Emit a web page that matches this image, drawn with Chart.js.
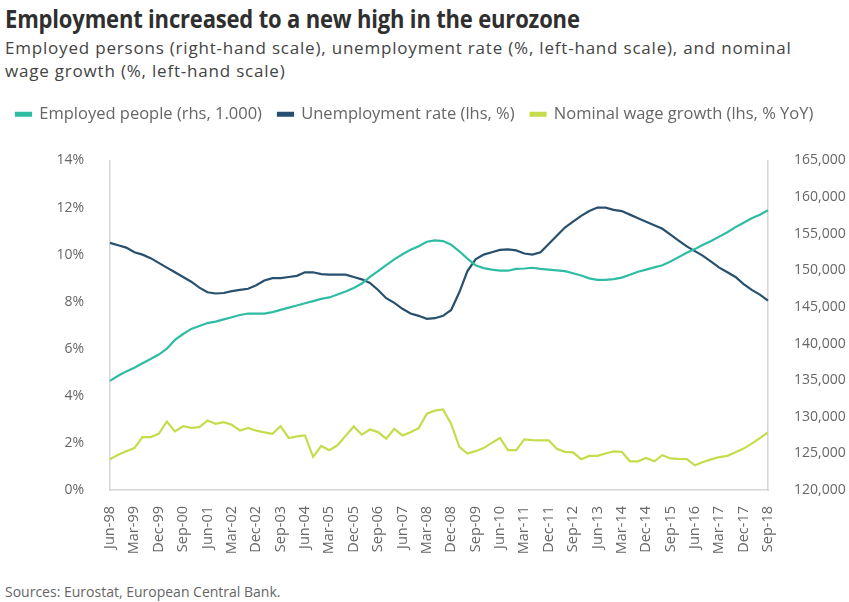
<!DOCTYPE html>
<html>
<head>
<meta charset="utf-8">
<script src="https://cdn.jsdelivr.net/npm/chart.js@4.4.0/dist/chart.umd.min.js"></script>
<style>
  html, body { margin: 0; padding: 0; background: #fff; }
  body { width: 849px; height: 602px; position: relative; overflow: hidden; font-family: "Open Sans", sans-serif; }
  #title { position: absolute; left: 5px; top: 1px; font-size: 25px; font-weight: 700; color: #2f2f2f; white-space: nowrap; transform: scaleX(0.88); transform-origin: left top; letter-spacing: -0.2px; }
  #subtitle { position: absolute; left: 5px; top: 36px; font-size: 17px; line-height: 23px; color: #444; width: 840px; letter-spacing: 0.8px; white-space: nowrap; }
  #source { position: absolute; left: 5px; top: 582px; font-size: 14px; color: #666; }
  #wrap { position: absolute; left: 0; top: 90px; width: 849px; height: 486px; }
</style>
</head>
<body>
<div id="title">Employment increased to a new high in the eurozone</div>
<div id="subtitle">Employed persons (right-hand scale), unemployment rate (%, left-hand scale), and nominal<br>wage growth (%, left-hand scale)</div>
<div id="wrap"><canvas id="c" width="849" height="486"></canvas></div>
<div id="source">Sources: Eurostat, European Central Bank.</div>
<script>
const quarters = [
  'Jun-98','Sep-98','Dec-98','Mar-99','Jun-99','Sep-99','Dec-99','Mar-00','Jun-00','Sep-00','Dec-00','Mar-01',
  'Jun-01','Sep-01','Dec-01','Mar-02','Jun-02','Sep-02','Dec-02','Mar-03','Jun-03','Sep-03','Dec-03','Mar-04',
  'Jun-04','Sep-04','Dec-04','Mar-05','Jun-05','Sep-05','Dec-05','Mar-06','Jun-06','Sep-06','Dec-06','Mar-07',
  'Jun-07','Sep-07','Dec-07','Mar-08','Jun-08','Sep-08','Dec-08','Mar-09','Jun-09','Sep-09','Dec-09','Mar-10',
  'Jun-10','Sep-10','Dec-10','Mar-11','Jun-11','Sep-11','Dec-11','Mar-12','Jun-12','Sep-12','Dec-12','Mar-13',
  'Jun-13','Sep-13','Dec-13','Mar-14','Jun-14','Sep-14','Dec-14','Mar-15','Jun-15','Sep-15','Dec-15','Mar-16',
  'Jun-16','Sep-16','Dec-16','Mar-17','Jun-17','Sep-17','Dec-17','Mar-18','Jun-18','Sep-18'
];
const shownLabels = ['Jun-98','Mar-99','Dec-99','Sep-00','Jun-01','Mar-02','Dec-02','Sep-03','Jun-04','Mar-05',
  'Dec-05','Sep-06','Jun-07','Mar-08','Dec-08','Sep-09','Jun-10','Mar-11','Dec-11','Sep-12','Jun-13','Mar-14',
  'Dec-14','Sep-15','Jun-16','Mar-17','Dec-17','Sep-18'];

const employedPeople = [
  134900,135600,136200,136700,137300,137900,138500,139300,140500,141300,142000,142400,
  142800,143000,143300,143600,143900,144100,144100,144100,144300,144600,144900,145200,
  145500,145800,146100,146300,146700,147100,147600,148200,149100,149900,150700,151500,
  152200,152800,153300,153900,154100,154000,153500,152600,151600,150700,150300,150100,
  149950,149950,150200,150250,150350,150200,150100,150000,149900,149600,149300,148900,
  148700,148700,148800,149000,149400,149800,150100,150400,150700,151200,151800,152400,
  152900,153500,154000,154600,155200,155900,156500,157100,157600,158200
];
const unemploymentRate = [
  10.5,10.4,10.3,10.1,10.0,9.85,9.65,9.45,9.25,9.05,8.85,8.6,
  8.4,8.35,8.37,8.45,8.5,8.55,8.7,8.9,9.0,9.0,9.05,9.1,
  9.25,9.25,9.17,9.15,9.15,9.15,9.05,8.95,8.8,8.5,8.15,7.95,
  7.7,7.5,7.4,7.27,7.3,7.4,7.65,8.4,9.3,9.8,10.0,10.1,
  10.2,10.22,10.18,10.05,10.0,10.1,10.45,10.8,11.15,11.4,11.65,11.85,
  12.0,12.0,11.9,11.85,11.7,11.55,11.4,11.25,11.1,10.85,10.6,10.35,
  10.15,9.95,9.7,9.45,9.25,9.05,8.75,8.5,8.3,8.05
];
const nominalWageGrowth = [
  1.31,1.5,1.65,1.78,2.25,2.25,2.39,2.91,2.49,2.71,2.64,2.67,
  2.95,2.81,2.88,2.77,2.53,2.64,2.52,2.45,2.39,2.71,2.21,2.28,
  2.32,1.41,1.87,1.69,1.9,2.3,2.7,2.35,2.57,2.46,2.18,2.6,
  2.32,2.45,2.63,3.24,3.37,3.42,2.81,1.83,1.55,1.65,1.78,2.0,
  2.21,1.69,1.69,2.15,2.12,2.11,2.11,1.75,1.62,1.6,1.31,1.45,
  1.45,1.55,1.64,1.62,1.22,1.22,1.36,1.22,1.48,1.34,1.32,1.31,
  1.05,1.19,1.3,1.4,1.45,1.6,1.76,1.97,2.2,2.45
];
const leftTicks = { min: 0, max: 14, step: 2 };
const rightTicks = { min: 120000, max: 165000, step: 5000 };

const TEAL = '#2fbca4', NAVY = '#27506f', LIME = '#c6dc4c', AXIS = '#d6d6d6', TICK = '#666';

const legendSpacer = {
  id: 'legendSpacer',
  beforeInit(chart) {
    const orig = chart.legend.fit;
    chart.legend.fit = function () { orig.bind(chart.legend)(); this.height += 28; };
  }
};

new Chart(document.getElementById('c'), {
  type: 'line',
  data: {
    labels: quarters,
    datasets: [
      { label: 'Employed people (rhs, 1.000)', data: employedPeople, yAxisID: 'yR', borderColor: TEAL, backgroundColor: TEAL, borderWidth: 2.2, pointRadius: 0, tension: 0 },
      { label: 'Unemployment rate (lhs, %)', data: unemploymentRate, yAxisID: 'yL', borderColor: NAVY, backgroundColor: NAVY, borderWidth: 2.2, pointRadius: 0, tension: 0 },
      { label: 'Nominal wage growth (lhs, % YoY)', data: nominalWageGrowth, yAxisID: 'yL', borderColor: LIME, backgroundColor: LIME, borderWidth: 2.2, pointRadius: 0, tension: 0 }
    ]
  },
  plugins: [legendSpacer],
  options: {
    responsive: false,
    animation: false,
    layout: { padding: { left: 0, right: 0, top: 0, bottom: 0 } },
    plugins: {
      legend: {
        position: 'top', align: 'start',
        labels: { boxWidth: 15, boxHeight: 3, padding: 16, color: '#666', font: { family: 'Open Sans', size: 16.5 } }
      },
      tooltip: { enabled: false }
    },
    scales: {
      x: {
        grid: { display: false },
        border: { display: true, color: AXIS, width: 1.5 },
        ticks: {
          autoSkip: false, maxRotation: 90, minRotation: 90, padding: 8, color: TICK,
          font: { family: 'Open Sans', size: 14.5 },
          callback: function (v, i) { const l = quarters[i]; return shownLabels.includes(l) ? l : null; }
        },
        afterFit(scale) { scale.height = 86; }
      },
      yL: {
        position: 'left', min: leftTicks.min, max: leftTicks.max,
        grid: { display: false },
        border: { display: true, color: AXIS, width: 1.5 },
        ticks: { stepSize: leftTicks.step, padding: 18, color: TICK, font: { family: 'Open Sans', size: 14 }, callback: v => v + '%' },
        afterFit(scale) { scale.width = 110; }
      },
      yR: {
        position: 'right', min: rightTicks.min, max: rightTicks.max,
        grid: { display: false },
        border: { display: true, color: AXIS, width: 1.5 },
        ticks: { stepSize: rightTicks.step, padding: 18, color: TICK, font: { family: 'Open Sans', size: 14 }, callback: v => v.toLocaleString('en-US') },
        afterFit(scale) { scale.width = 81; }
      }
    }
  }
});
</script>
</body>
</html>
